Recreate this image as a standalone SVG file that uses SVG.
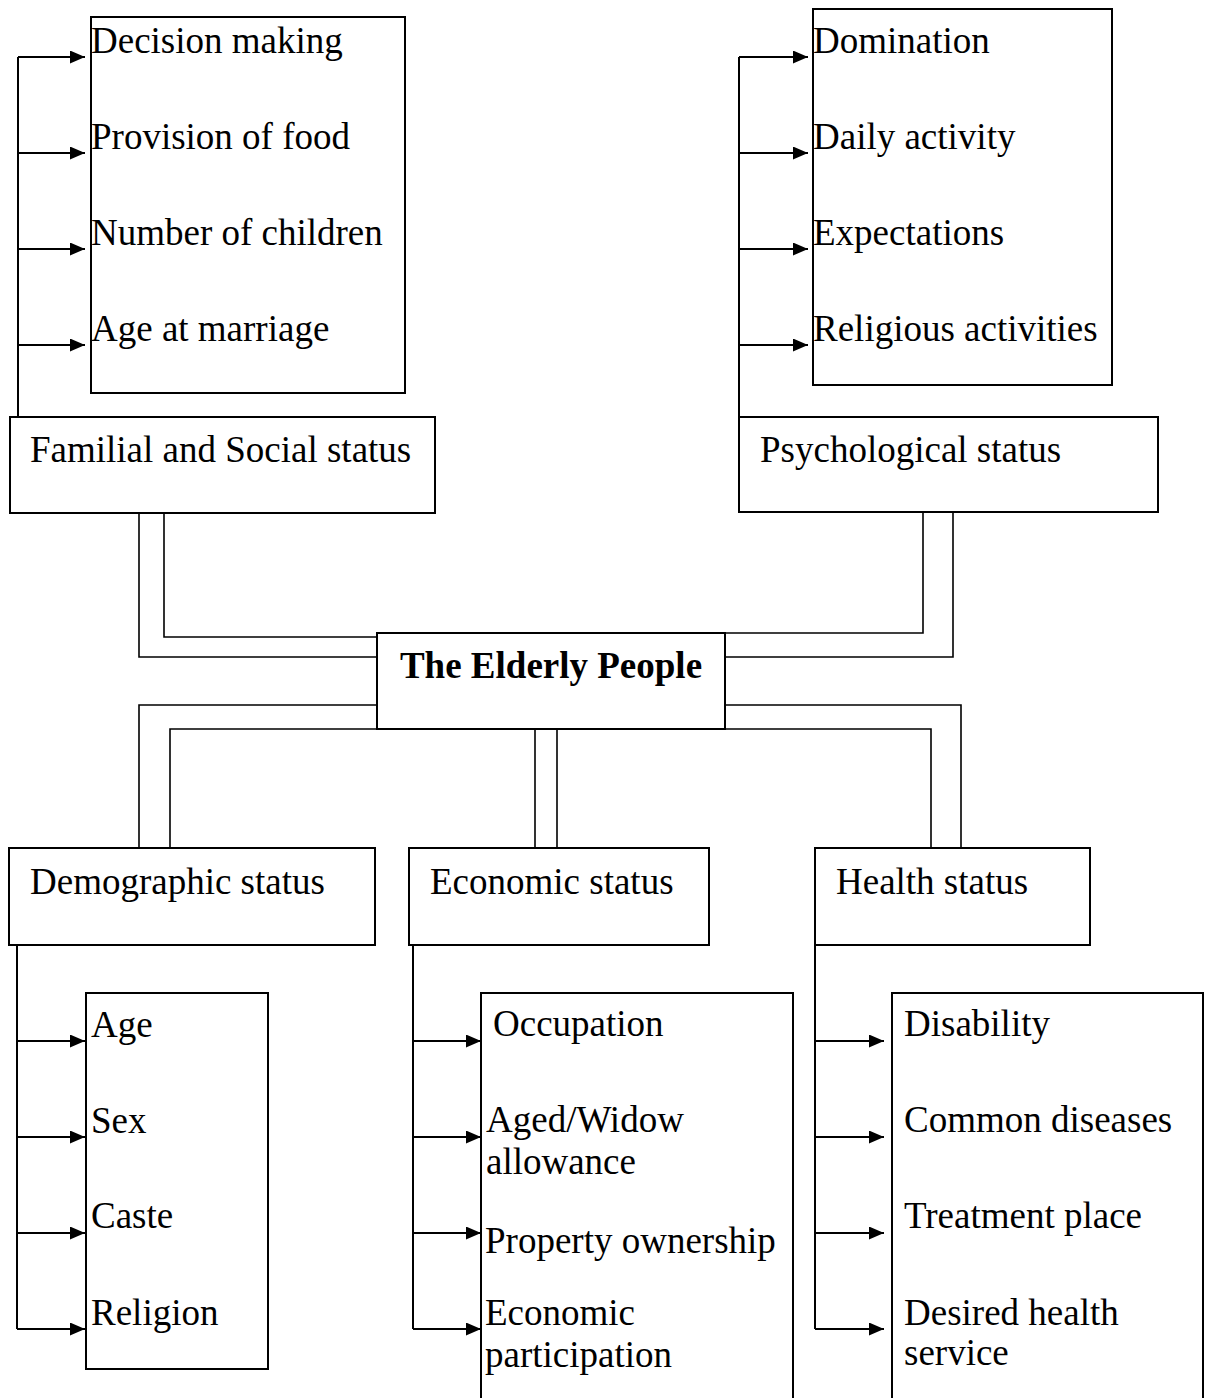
<svg xmlns="http://www.w3.org/2000/svg" width="1207" height="1398" viewBox="0 0 1207 1398">
<style>
.box{fill:#fff;stroke:#000;stroke-width:2}
.lst{fill:none;stroke:#000;stroke-width:2}
.t{font-family:"Liberation Serif","Times New Roman",serif;font-size:37px;fill:#000}
.b{font-weight:bold}
.ln{fill:none;stroke:#000;stroke-width:2}
.dl{fill:none;stroke:#000;stroke-width:1.6}
</style>
<defs>
<marker id="ah" markerUnits="userSpaceOnUse" markerWidth="16" markerHeight="14" refX="15" refY="6.5" orient="auto">
<path d="M0,0 L15,6.5 L0,13 z" fill="#000"/>
</marker>
</defs>
<rect width="1207" height="1398" fill="#fff"/>
<g id="connectors">
<path class="dl" d="M139,513 V657 H377 M164,513 V637 H377"/>
<path class="dl" d="M923,512 V633 H725 M953,512 V657 H725"/>
<path class="dl" d="M377,705 H139 V848 M377,729 H170 V848"/>
<path class="dl" d="M535,729 V848 M557,729 V848"/>
<path class="dl" d="M725,705 H961 V848 M725,729 H931 V848"/>
<path class="ln" d="M18,417 V57"/>
<path class="ln" d="M18,57 H85" marker-end="url(#ah)"/>
<path class="ln" d="M18,153 H85" marker-end="url(#ah)"/>
<path class="ln" d="M18,249 H85" marker-end="url(#ah)"/>
<path class="ln" d="M18,345 H85" marker-end="url(#ah)"/>
<path class="ln" d="M739,417 V57"/>
<path class="ln" d="M739,57 H808" marker-end="url(#ah)"/>
<path class="ln" d="M739,153 H808" marker-end="url(#ah)"/>
<path class="ln" d="M739,249 H808" marker-end="url(#ah)"/>
<path class="ln" d="M739,345 H808" marker-end="url(#ah)"/>
<path class="ln" d="M17,945 V1329"/>
<path class="ln" d="M17,1041 H85" marker-end="url(#ah)"/>
<path class="ln" d="M17,1137 H85" marker-end="url(#ah)"/>
<path class="ln" d="M17,1233 H85" marker-end="url(#ah)"/>
<path class="ln" d="M17,1329 H85" marker-end="url(#ah)"/>
<path class="ln" d="M413,945 V1329"/>
<path class="ln" d="M413,1041 H481" marker-end="url(#ah)"/>
<path class="ln" d="M413,1137 H481" marker-end="url(#ah)"/>
<path class="ln" d="M413,1233 H481" marker-end="url(#ah)"/>
<path class="ln" d="M413,1329 H481" marker-end="url(#ah)"/>
<path class="ln" d="M815,945 V1329"/>
<path class="ln" d="M815,1041 H884" marker-end="url(#ah)"/>
<path class="ln" d="M815,1137 H884" marker-end="url(#ah)"/>
<path class="ln" d="M815,1233 H884" marker-end="url(#ah)"/>
<path class="ln" d="M815,1329 H884" marker-end="url(#ah)"/>
</g>
<g id="familial-list">
<rect class="lst" x="91" y="17" width="314" height="376"/>
<text class="t" x="91" y="53">Decision making</text>
<text class="t" x="91" y="149">Provision of food</text>
<text class="t" x="91" y="245">Number of children</text>
<text class="t" x="91" y="341">Age at marriage</text>
</g>
<g id="familial">
<rect class="box" x="10" y="417" width="425" height="96"/>
<text class="t" x="30" y="462">Familial and Social status</text>
</g>
<g id="psych-list">
<rect class="lst" x="813" y="9" width="299" height="376"/>
<text class="t" x="813" y="53">Domination</text>
<text class="t" x="813" y="149">Daily activity</text>
<text class="t" x="813" y="245">Expectations</text>
<text class="t" x="813" y="341">Religious activities</text>
</g>
<g id="psych">
<rect class="box" x="739" y="417" width="419" height="95"/>
<text class="t" x="760" y="462">Psychological status</text>
</g>
<g id="elderly">
<rect class="box" x="377" y="633" width="348" height="96"/>
<text class="t b" x="551" y="678" text-anchor="middle">The Elderly People</text>
</g>
<g id="demographic">
<rect class="box" x="9" y="848" width="366" height="97"/>
<text class="t" x="30" y="894">Demographic status</text>
</g>
<g id="demographic-list">
<rect class="lst" x="86" y="993" width="182" height="376"/>
<text class="t" x="91" y="1037">Age</text>
<text class="t" x="91" y="1133">Sex</text>
<text class="t" x="91" y="1228">Caste</text>
<text class="t" x="91" y="1325">Religion</text>
</g>
<g id="economic">
<rect class="box" x="409" y="848" width="300" height="97"/>
<text class="t" x="430" y="894">Economic status</text>
</g>
<g id="economic-list">
<path class="lst" d="M481,1400 V993 H793 V1400"/>
<text class="t" x="493" y="1036">Occupation</text>
<text class="t" x="486" y="1132">Aged/Widow</text>
<text class="t" x="486" y="1174">allowance</text>
<text class="t" x="485" y="1253">Property ownership</text>
<text class="t" x="485" y="1325">Economic</text>
<text class="t" x="485" y="1367">participation</text>
</g>
<g id="health">
<rect class="box" x="815" y="848" width="275" height="97"/>
<text class="t" x="836" y="894">Health status</text>
</g>
<g id="health-list">
<path class="lst" d="M892,1400 V993 H1203 V1400"/>
<text class="t" x="904" y="1036">Disability</text>
<text class="t" x="904" y="1132">Common diseases</text>
<text class="t" x="904" y="1228">Treatment place</text>
<text class="t" x="904" y="1325">Desired health</text>
<text class="t" x="904" y="1365">service</text>
</g>
</svg>
